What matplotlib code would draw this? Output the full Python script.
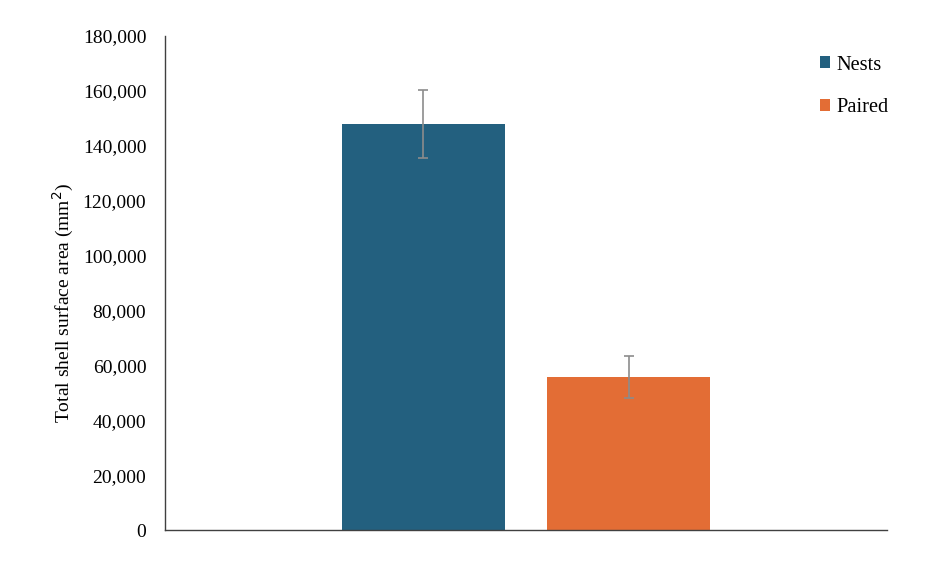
import matplotlib
matplotlib.use("Agg")
import matplotlib.pyplot as plt
from matplotlib.ticker import FuncFormatter

series = ["Nests", "Paired"]
values = [148000, 55700]
errors = [12400, 7700]
colors = ["#23607f", "#e36d35"]
yticks = [0, 20000, 40000, 60000, 80000, 100000, 120000, 140000, 160000, 180000]

plt.rcParams['font.family'] = ['Liberation Serif', 'DejaVu Serif']

fig = plt.figure(figsize=(9.43, 5.71), dpi=100)
ax = fig.add_axes([0.175, 0.0718, 0.7656, 0.8651])

width = 0.2258
offsets = [-0.142, 0.142]
for name, v, e, c, off in zip(series, values, errors, colors, offsets):
    ax.bar(off, v, width=width, color=c, label=name, zorder=2)
    ax.errorbar(off, v, yerr=e, fmt='none', ecolor='#8c8c8c', elinewidth=1.2,
                capsize=3.5, capthick=1.2, zorder=3)

ax.set_xlim(-0.5, 0.5)
ax.set_ylim(0, 180000)
ax.set_yticks(yticks)
ax.yaxis.set_major_formatter(FuncFormatter(lambda v, p: f"{int(v):,}"))
ax.set_xticks([])
ax.tick_params(axis='y', length=0, labelsize=14, pad=13.5, colors='black')
for s in ['top', 'right']:
    ax.spines[s].set_visible(False)
for s in ['left', 'bottom']:
    ax.spines[s].set_color('#404040')
    ax.spines[s].set_linewidth(1.0)
ax.set_ylabel("Total shell surface area (mm$^2$)", fontsize=14, labelpad=6)
ax.yaxis.set_label_coords(-0.124, 0.4605)

leg = ax.legend(loc='upper left', bbox_to_anchor=(0.8607, 0.917), bbox_transform=fig.transFigure,
                frameon=False, fontsize=14.7, handlelength=0.5, handleheight=0.5,
                handletextpad=0.3, labelspacing=1.15, borderaxespad=0)

fig.savefig("out.png", dpi=100)
